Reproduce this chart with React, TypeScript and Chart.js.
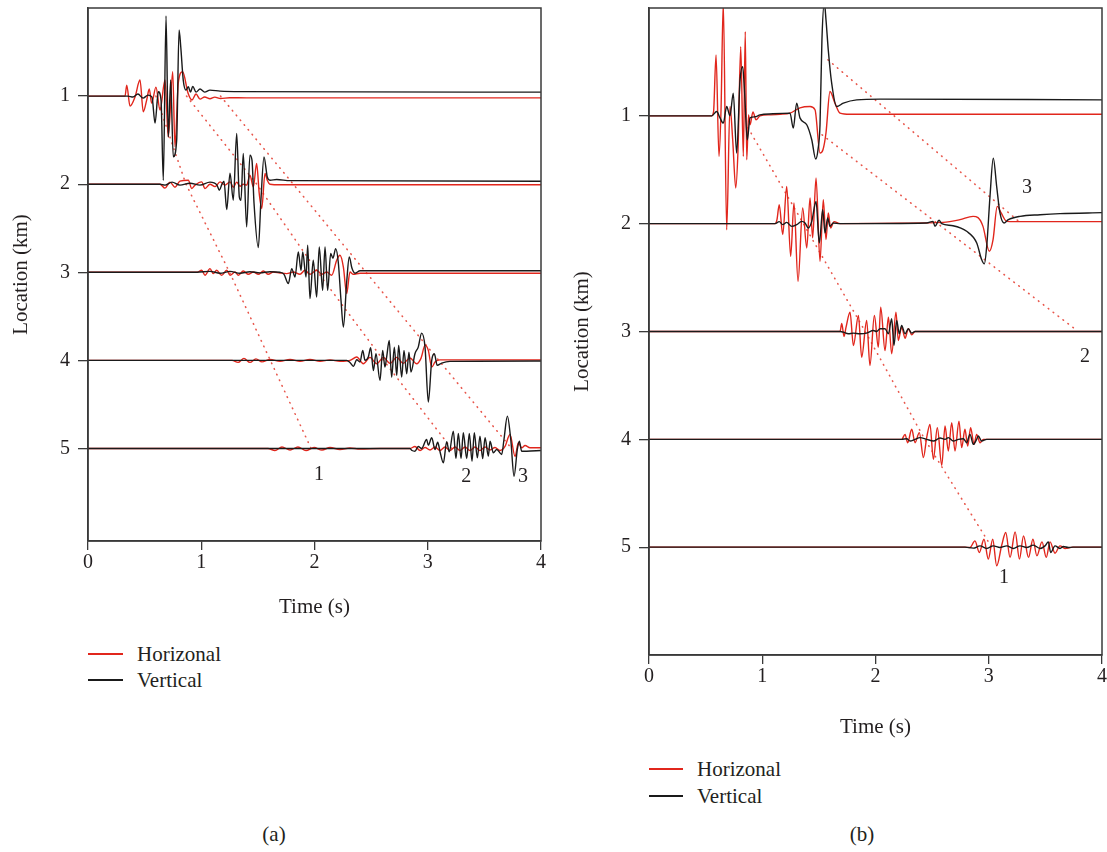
import React, { useEffect, useRef } from 'react';
import { Chart, registerables } from 'chart.js';

Chart.register(...registerables);

type Pt = [number, number];

// ---------- axes ----------
const LOCATIONS = [1, 2, 3, 4, 5];
const TIME_TICKS = [0, 1, 2, 3, 4];
const LEGEND_LABELS = ['Horizonal', 'Vertical'];
const A_LOC_MAX = 6.05;
const B_LOC_MAX = 6;

// ---------- panel (a): [time s, amplitude (km-axis units, up = +)] ----------
const aH1: Pt[] = [[0,0],[0.327,0],[0.342,0.125],[0.371,-0.114],[0.415,-0.011],[0.459,0.182],[0.488,-0.178],[0.518,-0.045],[0.541,0.08],[0.562,-0.08],[0.6,0.102],[0.636,-0.159],[0.68,0.182],[0.709,-0.466],[0.748,0.276],[0.768,-0.576],[0.797,0.148],[0.836,0.276],[0.883,0.034],[0.918,-0.045],[0.954,0.023],[0.989,-0.034],[1.03,-0.01],[1.077,-0.03],[1.12,-0.012],[1.17,-0.028],[1.25,-0.018],[1.4,-0.02],[4,-0.02]];
const aV1: Pt[] = [[0,0],[0.353,0],[0.397,-0.011],[0.441,0.023],[0.486,-0.023],[0.53,0.011],[0.565,-0.011],[0.592,-0.307],[0.621,0.049],[0.645,-0.045],[0.665,-0.955],[0.689,0.909],[0.709,-0.463],[0.73,0.182],[0.753,-0.69],[0.783,-0.5],[0.804,0.75],[0.819,0.56],[0.841,0.182],[0.865,0.068],[0.886,0.106],[0.905,0.045],[0.925,0.11],[0.954,0.045],[0.989,0.08],[1.03,0.045],[1.077,0.068],[1.166,0.057],[1.342,0.051],[4,0.045]];
const aH2: Pt[] = [[0,0],[0.636,0],[0.68,-0.045],[0.724,0.023],[0.768,-0.034],[0.812,0.034],[0.886,0.045],[0.916,-0.049],[0.945,-0.011],[1.004,0.026],[1.033,-0.049],[1.077,0],[1.121,-0.028],[1.166,0.026],[1.21,-0.011],[1.254,0.026],[1.283,-0.034],[1.313,0.023],[1.342,-0.023],[1.371,0],[1.401,-0.011],[1.43,0.102],[1.46,-0.031],[1.489,0.235],[1.512,-0.106],[1.534,-0.276],[1.563,0.122],[1.583,0.045],[1.607,0],[1.695,-0.006],[4,-0.006]];
const aV2: Pt[] = [[0,0],[0.636,0],[0.68,-0.011],[0.742,0.023],[0.812,-0.011],[0.901,0.011],[0.989,-0.011],[1.077,0.023],[1.139,-0.011],[1.159,-0.068],[1.183,0],[1.201,0.034],[1.225,-0.288],[1.254,0.125],[1.283,-0.182],[1.313,0.576],[1.336,-0.144],[1.351,-0.182],[1.371,0.349],[1.401,-0.485],[1.43,0.33],[1.448,0.273],[1.466,-0.216],[1.504,-0.719],[1.527,-0.182],[1.554,0.31],[1.583,0.083],[1.607,0.045],[1.666,0.053],[1.784,0.04],[4,0.034]];
const aH3: Pt[] = [[0,0],[0.962,0],[1.004,0.023],[1.033,-0.034],[1.077,0.042],[1.107,-0.015],[1.136,0.023],[1.18,-0.034],[1.225,0.023],[1.254,-0.034],[1.298,0.003],[1.328,-0.034],[1.371,0.015],[1.416,-0.023],[1.46,0.003],[1.504,-0.023],[1.548,0.015],[1.592,-0.023],[1.636,0.003],[1.695,-0.008],[1.754,-0.015],[1.813,0.003],[1.872,-0.023],[1.916,0.023],[1.96,-0.023],[2.019,0.023],[2.064,-0.023],[2.108,0.003],[2.152,-0.034],[2.196,0.136],[2.225,0.193],[2.255,0.06],[2.284,-0.242],[2.313,0.003],[2.343,-0.023],[2.402,-0.011],[4,-0.011]];
const aV3: Pt[] = [[0,0],[0.962,0],[1.077,0.011],[1.166,-0.011],[1.254,0.011],[1.342,-0.011],[1.43,0.006],[1.519,-0.006],[1.607,0.006],[1.695,0],[1.731,-0.023],[1.769,-0.128],[1.799,0.042],[1.828,-0.053],[1.857,0.231],[1.881,0.023],[1.896,0.231],[1.925,-0.053],[1.94,0.307],[1.96,-0.299],[1.989,0.136],[2.019,-0.281],[2.042,0.288],[2.072,-0.205],[2.093,0.288],[2.116,-0.205],[2.143,0.213],[2.163,0.159],[2.187,0.269],[2.21,0.114],[2.234,-0.318],[2.255,-0.622],[2.284,-0.114],[2.307,0.174],[2.331,0.045],[2.358,-0.011],[2.402,0.017],[4,0.017]];
const aH4: Pt[] = [[0,0],[1.272,0],[1.325,-0.023],[1.377,0.023],[1.43,-0.023],[1.483,0.017],[1.536,-0.017],[1.607,0.011],[1.695,-0.011],[1.784,0.011],[1.872,-0.011],[1.96,0.011],[2.049,-0.011],[2.137,0.006],[2.225,-0.011],[2.313,0],[2.373,0.038],[2.431,-0.038],[2.49,0.034],[2.549,-0.038],[2.608,0.034],[2.667,-0.034],[2.726,0.034],[2.784,-0.034],[2.843,0.028],[2.902,-0.038],[2.94,0.023],[2.976,0.17],[3.005,0.114],[3.035,-0.076],[3.064,-0.019],[3.108,0.006],[4,0.006]];
const aV4: Pt[] = [[0,0],[2.284,0],[2.313,-0.023],[2.343,-0.068],[2.373,0.008],[2.402,-0.019],[2.426,0.114],[2.446,0],[2.475,0.038],[2.496,0.144],[2.52,-0.114],[2.543,0.076],[2.578,-0.227],[2.602,0.114],[2.622,-0.076],[2.637,0.038],[2.66,0.227],[2.681,-0.19],[2.705,0.151],[2.726,-0.17],[2.743,0.17],[2.77,-0.19],[2.79,0.114],[2.814,-0.151],[2.834,0.094],[2.852,-0.133],[2.887,0.076],[2.916,0.151],[2.946,0.31],[2.976,0.151],[3.005,-0.474],[3.035,0],[3.058,0.076],[3.084,-0.057],[3.123,-0.031],[3.196,-0.011],[4,-0.006]];
const aH5: Pt[] = [[0,0],[1.589,0],[1.651,-0.023],[1.713,0.017],[1.784,-0.017],[1.854,0.017],[1.925,-0.023],[1.996,0.011],[2.066,-0.017],[2.137,0.011],[2.225,-0.011],[2.313,0.006],[2.402,-0.006],[2.578,0],[2.843,0],[2.887,0.023],[2.932,-0.023],[2.976,0.011],[3.02,-0.017],[3.064,0.017],[3.108,-0.023],[3.152,0.017],[3.196,-0.023],[3.241,0.017],[3.285,-0.023],[3.329,0.017],[3.373,-0.023],[3.417,0.017],[3.461,-0.023],[3.506,0.017],[3.55,-0.017],[3.594,0.011],[3.638,-0.023],[3.682,0.023],[3.726,0.159],[3.771,-0.091],[3.8,0.065],[3.829,0.008],[3.859,0.034],[3.903,0.008],[4,0.008]];
const aV5: Pt[] = [[0,0],[2.843,0],[2.861,-0.023],[2.887,-0.031],[2.916,0.023],[2.946,0],[2.99,0.102],[3.005,0.038],[3.035,0.122],[3.064,-0.011],[3.088,0.072],[3.108,-0.034],[3.138,-0.163],[3.167,0.076],[3.19,-0.038],[3.226,0.197],[3.249,-0.114],[3.27,0.17],[3.294,-0.114],[3.314,0.178],[3.344,-0.114],[3.367,0.17],[3.391,-0.144],[3.411,0.178],[3.438,-0.106],[3.461,0.14],[3.485,-0.114],[3.506,0.122],[3.535,-0.087],[3.55,0.083],[3.579,-0.049],[3.609,-0.011],[3.653,-0.068],[3.673,0.102],[3.703,0.367],[3.733,0.102],[3.762,-0.315],[3.791,-0.011],[3.809,0.083],[3.829,-0.031],[3.874,-0.031],[4,-0.023]];

// moveout guide lines: [time s, location km]
const aMove1: Pt[] = [[0.6,1],[0.865,2],[1.25,3],[1.61,4],[1.97,5]];
const aMove2: Pt[] = [[0.87,1],[1.49,2],[2.03,3],[2.61,4],[3.21,5]];
const aMove3: Pt[] = [[1.17,1],[3.74,5]];
const aNotes: [string, number, number][] = [['1',2.04,5.3],['2',3.34,5.32],['3',3.84,5.32]];

// ---------- panel (b) ----------
const bH1: Pt[] = [[0,0],[0.554,0],[0.57,0.037],[0.592,0.565],[0.618,-0.377],[0.636,0.056],[0.656,1.05],[0.686,-1.056],[0.715,0.086],[0.739,-0.222],[0.766,-0.669],[0.786,-0.315],[0.81,0.642],[0.833,-0.377],[0.85,0.781],[0.863,-0.407],[0.879,0.009],[0.892,-0.083],[0.918,0.037],[0.945,-0.037],[0.98,0],[1.068,0.009],[1.157,0.014],[1.245,0.025],[1.333,0.074],[1.422,0.086],[1.466,0.056],[1.51,-0.345],[1.536,-0.315],[1.563,-0.157],[1.598,0.225],[1.642,0.118],[1.687,0.025],[1.775,0.014],[4,0.014]];
const bV1: Pt[] = [[0,0],[0.554,0],[0.598,0.04],[0.627,-0.019],[0.656,-0.068],[0.686,0.086],[0.715,0],[0.744,0.21],[0.774,-0.345],[0.804,0.333],[0.827,0.456],[0.843,0.241],[0.868,-0.222],[0.892,-0.019],[0.936,-0.009],[0.98,0.009],[1.095,0.019],[1.245,0.025],[1.274,-0.114],[1.304,0.118],[1.333,-0.019],[1.393,-0.083],[1.437,-0.222],[1.472,-0.401],[1.492,-0.315],[1.51,-0.083],[1.527,0.704],[1.548,1.05],[1.563,0.889],[1.583,0.611],[1.613,0.303],[1.657,0.086],[1.716,0.118],[1.834,0.148],[2.04,0.155],[4,0.148]];
const bH2: Pt[] = [[0,0],[1.113,0],[1.13,0.037],[1.15,0.176],[1.181,-0.102],[1.216,0.345],[1.251,-0.303],[1.28,0.192],[1.316,-0.534],[1.357,0.145],[1.393,-0.225],[1.422,0.238],[1.445,-0.132],[1.475,0.423],[1.51,-0.349],[1.539,0.222],[1.563,-0.148],[1.583,0.099],[1.604,-0.04],[1.634,0.019],[1.687,0],[2.216,0.005],[2.596,0.012],[2.746,0.037],[2.861,0.068],[2.905,0.056],[2.949,-0.025],[3.005,-0.256],[3.038,-0.148],[3.075,0.16],[3.108,0.102],[3.159,0.021],[3.233,0.019],[4,0.019]];
const bV2: Pt[] = [[0,0],[1.113,0],[1.15,0.019],[1.181,-0.009],[1.216,0.012],[1.26,-0.025],[1.304,-0.009],[1.348,0.021],[1.378,0.006],[1.407,-0.04],[1.437,0.021],[1.475,0.206],[1.504,-0.179],[1.534,0.13],[1.554,-0.086],[1.578,0.053],[1.598,-0.025],[1.627,0.006],[1.687,0],[2.452,0.006],[2.508,0.021],[2.525,-0.025],[2.561,0.031],[2.585,0],[2.684,-0.019],[2.805,-0.071],[2.894,-0.179],[2.937,-0.333],[2.961,-0.373],[2.982,-0.21],[3.011,0.253],[3.04,0.608],[3.07,0.345],[3.099,0.099],[3.135,0.006],[3.173,0.037],[3.276,0.068],[3.453,0.083],[3.629,0.093],[4,0.102]];
const bH3: Pt[] = [[0,0],[1.687,0],[1.702,0.074],[1.722,-0.046],[1.74,0.04],[1.775,0.179],[1.805,-0.13],[1.849,0.148],[1.878,-0.238],[1.922,0.102],[1.951,-0.315],[1.99,0.148],[2.025,-0.145],[2.046,0.225],[2.084,-0.176],[2.114,0.132],[2.143,-0.206],[2.181,0.179],[2.201,-0.083],[2.231,0.04],[2.261,-0.062],[2.29,0.025],[2.32,-0.031],[2.349,0],[4,0]];
const bV3: Pt[] = [[0,0],[1.687,0],[1.716,-0.006],[1.76,-0.021],[1.805,-0.015],[1.863,-0.021],[1.922,-0.015],[1.981,0.009],[2.01,0],[2.04,0.025],[2.084,0.025],[2.114,-0.021],[2.143,0.118],[2.163,-0.13],[2.187,0.102],[2.21,-0.021],[2.231,0.056],[2.261,-0.021],[2.29,0.025],[2.32,-0.015],[2.349,0],[4,0]];
const bH4: Pt[] = [[0,0],[2.231,0],[2.261,0.046],[2.284,-0.031],[2.32,0.093],[2.349,-0.031],[2.387,0.062],[2.423,-0.169],[2.452,0.016],[2.481,0.139],[2.511,-0.185],[2.546,0.108],[2.585,-0.241],[2.614,0.123],[2.643,-0.108],[2.673,0.155],[2.702,-0.108],[2.737,0.169],[2.761,-0.077],[2.79,0.093],[2.814,-0.062],[2.84,0.108],[2.87,-0.046],[2.893,0.046],[2.923,-0.031],[2.952,0],[4,0]];
const bV4: Pt[] = [[0,0],[2.231,0],[2.276,0.006],[2.305,-0.016],[2.349,0],[2.393,0.016],[2.452,0],[2.511,-0.016],[2.57,0.012],[2.614,0],[2.643,0.016],[2.687,-0.016],[2.732,0],[2.776,0.006],[2.805,-0.031],[2.834,0.046],[2.864,-0.046],[2.893,0],[2.908,0.031],[2.937,-0.016],[2.982,0],[4,0]];
const bH5: Pt[] = [[0,0],[2.79,0],[2.834,-0.003],[2.878,0.058],[2.917,-0.049],[2.958,0.074],[2.996,-0.111],[3.035,0.074],[3.07,-0.173],[3.115,0.02],[3.15,0.136],[3.188,-0.095],[3.233,0.142],[3.271,-0.111],[3.307,0.105],[3.351,-0.095],[3.39,0.074],[3.425,-0.08],[3.47,0.049],[3.508,-0.095],[3.541,0.049],[3.585,-0.056],[3.629,0.012],[3.673,-0.012],[3.744,0],[4,0]];
const bV5: Pt[] = [[0,0],[2.79,0],[2.864,-0.009],[2.923,0.012],[2.982,-0.012],[3.04,0.012],[3.099,-0.003],[3.159,0.012],[3.217,-0.012],[3.276,0.012],[3.335,-0.003],[3.393,0.019],[3.453,-0.012],[3.497,0.012],[3.526,0.049],[3.547,-0.049],[3.585,0.012],[3.629,-0.012],[3.659,0.006],[3.703,-0.003],[3.744,0],[4,0]];

const bMove1: Pt[] = [[0.874,1.111],[1.363,2],[1.909,3],[2.435,4],[3.026,5]];
const bMove2: Pt[] = [[1.528,1.176],[3.779,2.991]];
const bMove3: Pt[] = [[1.58,0.481],[3.258,1.972]];
const bNotes: [string, number, number][] = [['3',3.338,1.667],['2',3.85,3.23],['1',3.135,5.28]];

// ---------- styles ----------
const FONT = '"Liberation Serif", "Times New Roman", "DejaVu Serif", serif';
const RED = '#e1261c';
const BLACK = '#1a1a1a';
const AXIS = '#3a3a3a';
const TEXT = '#231f20';
const DOT = '#e8574c';

interface Panel {
  H: Pt[][];
  V: Pt[][];
  moves: Pt[][];
  notes: [string, number, number][];
  locMax: number;
}

interface Box {
  left: number; top: number; w: number; h: number;
  yW: number; xH: number; padTop: number; padRight: number; yTitlePad: number;
}

const PANEL_A: Panel = { H: [aH1, aH2, aH3, aH4, aH5], V: [aV1, aV2, aV3, aV4, aV5], moves: [aMove1, aMove2, aMove3], notes: aNotes, locMax: A_LOC_MAX };
const PANEL_B: Panel = { H: [bH1, bH2, bH3, bH4, bH5], V: [bV1, bV2, bV3, bV4, bV5], moves: [bMove1, bMove2, bMove3], notes: bNotes, locMax: B_LOC_MAX };

const BOX_A: Box = { left: 0, top: 0, w: 560, h: 620, yW: 88, xH: 79, padTop: 8, padRight: 19, yTitlePad: 9 };
const BOX_B: Box = { left: 560, top: 0, w: 547, h: 740, yW: 89, xH: 85, padTop: 8, padRight: 5, yTitlePad: 10 };

const toTrace = (pts: Pt[], loc: number) => pts.map(([t, a]) => ({ x: t, y: loc - a }));

function makeChart(canvas: HTMLCanvasElement, panel: Panel, box: Box) {
  const datasets: any[] = [];
  panel.V.forEach((pts, i) => datasets.push({
    data: toTrace(pts, LOCATIONS[i]), borderColor: BLACK, borderWidth: 1.4,
    pointRadius: 0, cubicInterpolationMode: 'monotone', order: 0, fill: false,
  }));
  panel.H.forEach((pts, i) => datasets.push({
    data: toTrace(pts, LOCATIONS[i]), borderColor: RED, borderWidth: 1.4,
    pointRadius: 0, cubicInterpolationMode: 'monotone', order: 1, fill: false,
  }));
  panel.moves.forEach((pts) => datasets.push({
    data: pts.map(([t, l]) => ({ x: t, y: l })), borderColor: DOT, borderWidth: 1.6,
    borderDash: [0.6, 5.6], borderCapStyle: 'round', pointRadius: 0, tension: 0, order: 2, fill: false,
  }));

  const framePlugin = {
    id: 'frameAndNotes',
    afterDatasetsDraw(chart: any) {
      const { ctx, scales } = chart;
      ctx.save();
      ctx.fillStyle = TEXT;
      ctx.font = `20px ${FONT}`;
      ctx.textAlign = 'center';
      ctx.textBaseline = 'middle';
      panel.notes.forEach(([txt, t, l]) => {
        ctx.fillText(txt, scales.x.getPixelForValue(t), scales.y.getPixelForValue(l));
      });
      ctx.restore();
    },
    afterDraw(chart: any) {
      const { ctx, chartArea: a } = chart;
      ctx.save();
      ctx.strokeStyle = AXIS;
      ctx.lineWidth = 1.5;
      ctx.strokeRect(a.left, a.top, a.right - a.left, a.bottom - a.top);
      ctx.restore();
    },
  };

  return new Chart(canvas, {
    type: 'line',
    data: { datasets },
    plugins: [framePlugin],
    options: {
      responsive: false,
      maintainAspectRatio: false,
      animation: false,
      events: [],
      layout: { padding: { left: 0, top: box.padTop, right: box.padRight, bottom: 0 } },
      plugins: { legend: { display: false }, tooltip: { enabled: false } },
      scales: {
        x: {
          type: 'linear', min: 0, max: 4,
          afterBuildTicks: (s: any) => { s.ticks = TIME_TICKS.map((v) => ({ value: v })); },
          afterFit: (s: any) => { s.height = box.xH; s.paddingLeft = 0; s.paddingRight = 0; },
          ticks: { font: { family: FONT, size: 20 }, color: TEXT, padding: 1, maxRotation: 0, autoSkip: false },
          grid: { display: true, drawOnChartArea: false, drawTicks: true, tickLength: 9, color: AXIS, lineWidth: 1.3 },
          border: { display: true, color: AXIS, width: 1.5 },
          title: { display: true, text: 'Time (s)', font: { family: FONT, size: 21 }, color: TEXT, padding: { top: 0, bottom: 0 } },
        },
        y: {
          type: 'linear', min: 0, max: panel.locMax, reverse: true,
          afterBuildTicks: (s: any) => { s.ticks = LOCATIONS.map((v) => ({ value: v })); },
          afterFit: (s: any) => { s.width = box.yW; s.paddingTop = 0; s.paddingBottom = 0; },
          ticks: { font: { family: FONT, size: 20 }, color: TEXT, padding: 8, autoSkip: false },
          grid: { display: true, drawOnChartArea: false, drawTicks: true, tickLength: 10, color: AXIS, lineWidth: 1.3 },
          border: { display: true, color: AXIS, width: 1.5 },
          title: { display: true, text: 'Location (km)', font: { family: FONT, size: 21 }, color: TEXT, padding: { top: box.yTitlePad, bottom: 0 } },
        },
      },
    } as any,
  });
}

function PanelChart({ panel, box }: { panel: Panel; box: Box }) {
  const ref = useRef<HTMLCanvasElement | null>(null);
  useEffect(() => {
    if (!ref.current) return;
    const chart = makeChart(ref.current, panel, box);
    return () => chart.destroy();
  }, [panel, box]);
  return (
    <canvas
      ref={ref}
      width={box.w}
      height={box.h}
      style={{ position: 'absolute', left: box.left, top: box.top, width: box.w, height: box.h }}
    />
  );
}

function Legend({ x, y, textX, gap }: { x: number; y: number; textX: number; gap: number }) {
  const colors = [RED, BLACK];
  return (
    <>
      {LEGEND_LABELS.map((lab, i) => (
        <React.Fragment key={lab}>
          <div style={{ position: 'absolute', left: x, top: y + i * gap - 0.75, width: textX - x - 14, height: 1.5, background: colors[i] }} />
          <div style={{ position: 'absolute', left: textX, top: y + i * gap - 13, height: 26, lineHeight: '26px', fontFamily: FONT, fontSize: 21, color: TEXT, whiteSpace: 'nowrap' }}>{lab}</div>
        </React.Fragment>
      ))}
    </>
  );
}

function Caption({ cx, cy, text }: { cx: number; cy: number; text: string }) {
  return (
    <div style={{ position: 'absolute', left: cx - 40, top: cy - 13, width: 80, height: 26, lineHeight: '26px', textAlign: 'center', fontFamily: FONT, fontSize: 21, color: TEXT }}>{text}</div>
  );
}

export default function App() {
  return (
    <div style={{ position: 'absolute', left: 0, top: 0, width: 1107, height: 852, overflow: 'hidden', background: '#fff' }}>
      <PanelChart panel={PANEL_A} box={BOX_A} />
      <PanelChart panel={PANEL_B} box={BOX_B} />
      <Legend x={88} y={654} textX={137} gap={26} />
      <Legend x={649} y={769} textX={697} gap={27} />
      <Caption cx={274} cy={834} text="(a)" />
      <Caption cx={862} cy={834} text="(b)" />
    </div>
  );
}
